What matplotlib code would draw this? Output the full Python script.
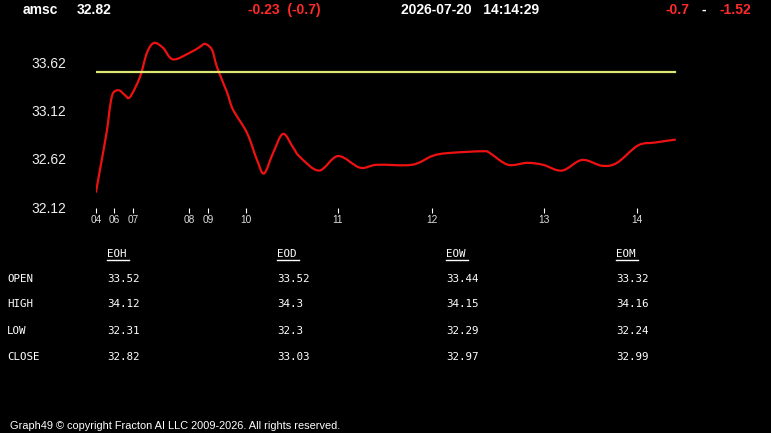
import matplotlib
matplotlib.use('Agg')
import matplotlib.pyplot as plt
from matplotlib.path import Path
from matplotlib.patches import PathPatch

# --- data ---
symbol = "amsc"
last_price = "32.82"
change_text = "-0.23  (-0.7)"
stamp_text = "2026-07-20   14:14:29"
range_lo, range_hi = "-0.7", "-1.52"

# intraday price path (position along the session, price)
t = [0, 4, 11, 14, 17, 23, 29, 34, 44, 51, 58, 67, 77, 94, 104, 109, 116, 121,
     131, 137, 151, 161, 168, 177, 187, 197, 204, 223, 242, 264, 281, 316, 336,
     351, 387, 394, 412, 431, 447, 466, 486, 506, 521, 542, 559, 579]
price = [32.28, 32.51, 32.92, 33.16, 33.30, 33.33, 33.28, 33.26, 33.47, 33.72,
         33.82, 33.77, 33.65, 33.72, 33.78, 33.81, 33.75, 33.57, 33.31, 33.13,
         32.89, 32.61, 32.47, 32.68, 32.88, 32.74, 32.64, 32.50, 32.65, 32.53,
         32.56, 32.56, 32.65, 32.68, 32.70, 32.68, 32.56, 32.58, 32.56, 32.50,
         32.61, 32.55, 32.58, 32.76, 32.79, 32.82]
open_level = 33.52

hour_pos = [0, 18, 37, 93, 112, 150, 242, 336, 448, 541]
hour_labels = ["04", "06", "07", "08", "09", "10", "11", "12", "13", "14"]
y_ticks = [32.12, 32.62, 33.12, 33.62]

periods = ["EOH", "EOD", "EOW", "EOM"]
row_names = ["OPEN", "HIGH", "LOW", "CLOSE"]
eoh = ["33.52", "34.12", "32.31", "32.82"]
eod = ["33.52", "34.3", "32.3", "33.03"]
eow = ["33.44", "34.15", "32.29", "32.97"]
eom = ["33.32", "34.16", "32.24", "32.99"]


def smooth_path(xs, ys):
    """Catmull-Rom curve through the points, as cubic bezier segments"""
    verts = [(xs[0], ys[0])]
    codes = [Path.MOVETO]
    n = len(xs)
    for i in range(n - 1):
        x0, y0 = (xs[i - 1], ys[i - 1]) if i > 0 else (xs[i], ys[i])
        x1, y1 = xs[i], ys[i]
        x2, y2 = xs[i + 1], ys[i + 1]
        x3, y3 = (xs[i + 2], ys[i + 2]) if i + 2 < n else (x2, y2)
        c1 = (x1 + (x2 - x0) / 6, y1 + (y2 - y0) / 6)
        c2 = (x2 - (x3 - x1) / 6, y2 - (y3 - y1) / 6)
        verts += [c1, c2, (x2, y2)]
        codes += [Path.CURVE4] * 3
    return Path(verts, codes)


W, H = 771, 433
fig = plt.figure(figsize=(W / 100, H / 100), dpi=100, facecolor='black')

# chart area
ax = fig.add_axes([96 / W, 1 - 208 / H, (700 - 96) / W, (208 - 30) / H])
ax.set_facecolor('black')
ax.plot([t[0], t[-1]], [open_level, open_level], color='#dce672', linewidth=1.6)
ax.add_patch(PathPatch(smooth_path(t, price), facecolor='none', edgecolor='#ee1111',
                       linewidth=1.6, capstyle='round', joinstyle='round'))
ax.set_xlim(0, 604)
ax.set_ylim(32.113, 33.954)
for s in ax.spines.values():
    s.set_visible(False)
ax.set_yticks(y_ticks)
ax.set_yticklabels([f"{v:.2f}" for v in y_ticks], family='Liberation Sans',
                   fontsize=10, color='#eeeeee')
ax.tick_params(axis='y', length=0, pad=21.6)
ax.set_xticks(hour_pos)
ax.set_xticklabels(hour_labels, family='Liberation Sans', fontsize=7.3, color='#dddddd')
ax.tick_params(axis='x', length=3.6, width=0.8, color='white', direction='out', pad=1.5)

# header
hdr = dict(family='Liberation Sans', fontsize=10, fontweight='bold', va='center')
fig.text(23 / W, 1 - 10 / H, symbol, color='white', **hdr)
fig.text(77 / W, 1 - 10 / H, last_price, color='white', **hdr)
fig.text(248 / W, 1 - 10 / H, change_text, color='#ff2a2a', **hdr)
fig.text(401 / W, 1 - 10 / H, stamp_text, color='white', **hdr)
fig.text(666 / W, 1 - 10 / H, range_lo, color='#ff2a2a', **hdr)
fig.text(702 / W, 1 - 10 / H, "-", color='white', **hdr)
fig.text(720 / W, 1 - 10 / H, range_hi, color='#ff2a2a', **hdr)

# OHLC table
mono = dict(family='DejaVu Sans Mono', fontsize=7.8, color='white', va='center')
col_x = [107, 277, 446, 616]
row_y = [279, 304, 331, 357]
cols = [eoh, eod, eow, eom]
for cx, name, vals in zip(col_x, periods, cols):
    fig.text(cx / W, 1 - 254 / H, name, **mono)
    fig.add_artist(plt.Line2D([cx / W, (cx + 22) / W], [1 - 260 / H, 1 - 260 / H],
                              color='white', linewidth=1.0))
    for ry, v in zip(row_y, vals):
        fig.text(cx / W, 1 - ry / H, v, **mono)
for ry, name in zip(row_y, row_names):
    fig.text(7 / W, 1 - ry / H, name, **mono)

fig.text(10 / W, 1 - 426 / H,
         "Graph49 \u00a9 copyright Fracton AI LLC 2009-2026. All rights reserved.",
         family='Liberation Sans', fontsize=7.9, color='white', va='center')

fig.savefig('out.png', dpi=100, facecolor='black')
